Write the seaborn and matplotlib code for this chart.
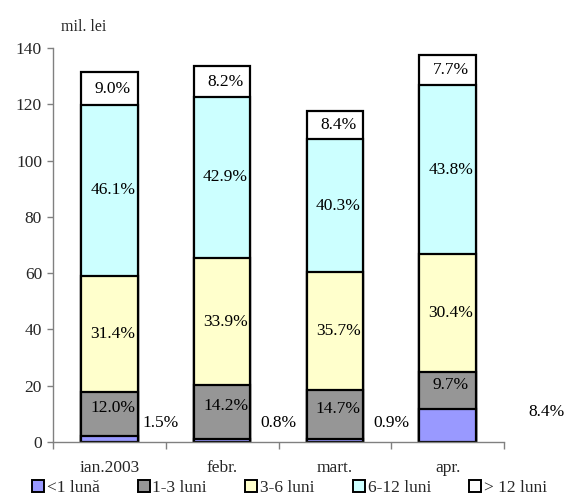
import matplotlib
matplotlib.use("Agg")
import matplotlib.pyplot as plt
from matplotlib.lines import Line2D
import seaborn as sns
import numpy as np
import pandas as pd

categories = ["ian.2003", "febr.", "mart.", "apr."]
series_names = ["<1 lună", "1-3 luni", "3-6 luni", "6-12 luni", "> 12 luni"]
colors = ["#9999FF", "#969696", "#FFFFCC", "#CCFFFF", "#FFFFFF"]

# values in mil. lei
v_lt1 = [2.0, 1.1, 1.1, 11.6]
v_1_3 = [15.8, 19.0, 17.3, 13.3]
v_3_6 = [41.3, 45.3, 41.9, 41.8]
v_6_12 = [60.6, 57.3, 47.4, 60.2]
v_gt12 = [11.8, 10.8, 9.8, 10.6]

# percentage labels
p_lt1 = ["1.5%", "0.8%", "0.9%", "8.4%"]
p_1_3 = ["12.0%", "14.2%", "14.7%", "9.7%"]
p_3_6 = ["31.4%", "33.9%", "35.7%", "30.4%"]
p_6_12 = ["46.1%", "42.9%", "40.3%", "43.8%"]
p_gt12 = ["9.0%", "8.2%", "8.4%", "7.7%"]

series = [v_lt1, v_1_3, v_3_6, v_6_12, v_gt12]
labels = [p_lt1, p_1_3, p_3_6, p_6_12, p_gt12]

sns.set_theme(style="white")
plt.rcParams["font.family"] = ["Liberation Serif", "DejaVu Serif"]

fig = plt.figure(figsize=(5.78, 4.97), dpi=100)
ax = fig.add_axes([0.092, 0.111, 0.78, 0.792])

cum = np.cumsum(np.array(series), axis=0)
for i in range(len(series) - 1, -1, -1):
    df = pd.DataFrame({"cat": categories, "val": cum[i]})
    sns.barplot(data=df, x="cat", y="val", color=colors[i], width=0.5,
                edgecolor="black", linewidth=1.6, saturation=1, ax=ax,
                order=categories)

fs = 12.5
for j in range(len(categories)):
    for i in range(1, len(series)):
        lo = cum[i - 1][j]
        hi = cum[i][j]
        mid = (lo + hi) / 2
        if i == 1:
            mid += 2
        ax.text(j + 0.03, mid, labels[i][j], ha="center", va="center",
                fontsize=fs, color="black")
offs = [0.45, 0.5, 0.5, 0.88]
ys = [6.7, 6.7, 6.7, 10.6]
for j in range(len(categories)):
    ax.text(j + offs[j], ys[j], labels[0][j], ha="center", va="center",
            fontsize=fs, color="black", clip_on=False)

ax.set_xlim(-0.5, 3.5)
ax.set_ylim(0, 140)
ax.set_yticks(range(0, 141, 20))
ax.set_xlabel("")
ax.set_ylabel("")
ax.tick_params(axis="y", which="major", length=4, width=1, color="#808080",
               direction="out", left=True, labelsize=fs, pad=4)
ax.tick_params(axis="x", which="major", length=0, labelsize=fs, pad=13)
ax.set_xticks(np.arange(-0.5, 3.6, 1.0), minor=True)
ax.tick_params(axis="x", which="minor", length=5, width=1, color="#808080",
               direction="out", bottom=True)
for s in ["top", "right"]:
    ax.spines[s].set_visible(False)
for s in ["left", "bottom"]:
    ax.spines[s].set_color("#808080")
    ax.spines[s].set_linewidth(1.0)

fig.text(0.105, 0.945, "mil. lei", fontsize=fs - 1, ha="left", va="center")

handles = [Line2D([0], [0], marker="s", linestyle="none", markersize=8.5,
                  markerfacecolor=c, markeredgecolor="black", markeredgewidth=1.4)
           for c in colors]
fig.legend(handles, series_names, loc="center", ncol=5, frameon=False,
           bbox_to_anchor=(0.5, 0.018), fontsize=fs, handletextpad=0.1,
           columnspacing=2.15, handlelength=0.8, borderpad=0)

fig.savefig("out.png", dpi=100)
